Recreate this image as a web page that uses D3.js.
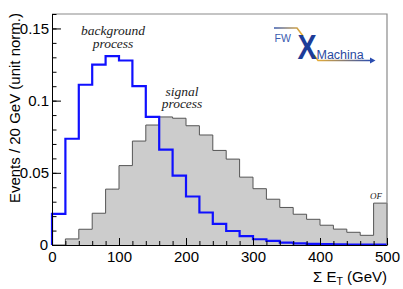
<!DOCTYPE html>
<html>
<head>
<meta charset="utf-8">
<script src="https://cdn.jsdelivr.net/npm/d3@7"></script>
<style>
  body { margin: 0; background: #fff; }
  svg text { font-family: "Liberation Sans", Arial, sans-serif; }
</style>
</head>
<body>
<svg id="Viz" width="403" height="289"></svg>
<script>
// bin lower edges (GeV), last bin is the overflow bin
var binStart = [0, 20, 40, 60, 80, 100, 120, 140, 160, 180, 200, 220, 240,
                260, 280, 300, 320, 340, 360, 380, 400, 420, 440, 460, 480];
var binWidth = 20;

var background = [0.0215, 0.0736, 0.111, 0.125, 0.1308, 0.1278, 0.110, 0.0887,
                  0.066, 0.048, 0.0336, 0.0225, 0.0146, 0.0097, 0.0062, 0.0040,
                  0.0028, 0.0016, 0.0011, 0.0008, 0.0006, 0.0004, 0.0003, 0.0002, 0.0002];

var signal = [0, 0.0042, 0.0109, 0.022, 0.0387, 0.055, 0.072, 0.0831, 0.0887,
              0.0878, 0.0826, 0.0762, 0.0655, 0.0595, 0.047, 0.039, 0.0317,
              0.026, 0.0213, 0.0178, 0.0137, 0.011, 0.0088, 0.0067, 0.029];

var yTicks = [0, 0.05, 0.1, 0.15];
var yMinor = [0, 0.01, 0.02, 0.03, 0.04, 0.05, 0.06, 0.07, 0.08, 0.09, 0.1,
              0.11, 0.12, 0.13, 0.14, 0.15, 0.16];
var xTicks = [0, 100, 200, 300, 400, 500];
var xMinor = [0, 20, 40, 60, 80, 100, 120, 140, 160, 180, 200, 220, 240, 260,
              280, 300, 320, 340, 360, 380, 400, 420, 440, 460, 480, 500];

var svg = d3.select("#Viz");
var padL = 52, padR = 387, padT = 14, padB = 245;

var x = d3.scaleLinear().domain([0, 500]).range([padL, padR]);
var y = d3.scaleLinear().domain([0, 0.16]).range([padB, padT]);

function steps(vals) {
  var pts = [[0, 0]];
  vals.forEach(function(v, i) { pts.push([binStart[i], v]); });
  pts.push([binStart[vals.length - 1] + binWidth, vals[vals.length - 1]]);
  pts.push([binStart[vals.length - 1] + binWidth, 0]);
  return pts;
}

var area = d3.area()
  .x(function(d) { return x(d[0]); })
  .y0(y(0))
  .y1(function(d) { return y(d[1]); })
  .curve(d3.curveStepAfter);

var line = d3.line()
  .x(function(d) { return x(d[0]); })
  .y(function(d) { return y(d[1]); })
  .curve(d3.curveStepAfter);

// signal (grey filled)
svg.append("path")
  .attr("d", area(steps(signal)))
  .attr("fill", "#cccccc");
svg.append("path")
  .attr("d", line(steps(signal)))
  .attr("fill", "none")
  .attr("stroke", "#555")
  .attr("stroke-width", 1);

// background (blue line)
svg.append("path")
  .attr("d", line(steps(background)))
  .attr("fill", "none")
  .attr("stroke", "#1010ff")
  .attr("stroke-width", 2.2);

// frame
svg.append("path")
  .attr("d", "M" + padL + "," + padT + "H" + padR + "V" + padB)
  .attr("fill", "none")
  .attr("stroke", "#8a8a8a")
  .attr("stroke-width", 1.2);

// y axis
var yAxis = svg.append("g")
  .attr("transform", "translate(" + padL + ",0)")
  .call(d3.axisLeft(y).tickValues(yTicks).tickSizeInner(-9).tickSizeOuter(0).tickPadding(3)
    .tickFormat(function(d) { return d === 0 ? "0" : String(+d.toFixed(2)); }));
svg.append("g")
  .attr("transform", "translate(" + padL + ",0)")
  .call(d3.axisLeft(y).tickValues(yMinor).tickSizeInner(-4.5).tickSizeOuter(0).tickFormat(""))
  .select(".domain").remove();
yAxis.selectAll("text").style("font-size", "15px").attr("fill", "#000");
yAxis.selectAll("text").filter(function(d) { return d === 0; })
  .attr("x", -4).attr("y", 0);

// x axis
var xAxis = svg.append("g")
  .attr("transform", "translate(0," + padB + ")")
  .call(d3.axisBottom(x).tickValues(xTicks).tickSizeInner(-7).tickSizeOuter(0).tickPadding(6)
    .tickFormat(d3.format("d")));
svg.append("g")
  .attr("transform", "translate(0," + padB + ")")
  .call(d3.axisBottom(x).tickValues(xMinor).tickSizeInner(-4).tickSizeOuter(0).tickFormat(""))
  .select(".domain").remove();
xAxis.selectAll("text").style("font-size", "15px").attr("fill", "#000");

svg.selectAll(".domain").attr("stroke", "#000");

// axis titles
svg.append("text")
  .attr("transform", "translate(20,13) rotate(-90)")
  .attr("text-anchor", "end")
  .style("font-size", "15px")
  .text("Events / 20 GeV (unit norm.)");

var xt = svg.append("text")
  .attr("x", padR)
  .attr("y", 282)
  .attr("text-anchor", "end")
  .style("font-size", "15px");
xt.append("tspan").text("\u03A3 E");
xt.append("tspan").attr("dy", 3).style("font-size", "10.5px").text("T");
xt.append("tspan").attr("dy", -3).text(" (GeV)");

// annotations
var serif = "'Liberation Serif', 'Times New Roman', serif";
function note(txt, cx, by, size) {
  svg.append("text")
    .attr("x", cx).attr("y", by)
    .attr("text-anchor", "middle")
    .style("font-family", serif)
    .style("font-style", "italic")
    .style("font-size", size + "px")
    .attr("fill", "#222")
    .text(txt);
}
note("background", 113, 34.5, 13.5);
note("process", 113, 47.5, 13.5);
note("signal", 182, 95.5, 13.5);
note("process", 182, 108, 13.5);
note("OF", 376, 199, 9);

// logo
var defs = svg.append("defs");
var g1 = defs.append("linearGradient").attr("id", "gTop");
g1.append("stop").attr("offset", "0%").attr("stop-color", "#3a5cb0");
g1.append("stop").attr("offset", "100%").attr("stop-color", "#f2b22e");
var g2 = defs.append("linearGradient").attr("id", "gBot");
g2.append("stop").attr("offset", "0%").attr("stop-color", "#f2b22e");
g2.append("stop").attr("offset", "100%").attr("stop-color", "#2a4db0");

var logo = svg.append("g");
logo.append("path")
  .attr("d", "M274,28H297L303,36")
  .attr("fill", "none").attr("stroke", "url(#gTop)").attr("stroke-width", 1.6);
logo.append("path")
  .attr("d", "M314,55L318,60.5H371")
  .attr("fill", "none").attr("stroke", "url(#gBot)").attr("stroke-width", 1.6);
logo.append("path")
  .attr("d", "M370,57.5L375.5,60.5L370,63.5Z")
  .attr("fill", "#2a4db0");
logo.append("text")
  .attr("x", 274.5).attr("y", 42)
  .style("font-size", "10.5px").attr("fill", "#3a5cb0")
  .text("FW");
logo.append("text")
  .attr("transform", "translate(297.5,58.7) scale(0.82,1)")
  .style("font-size", "35px").style("font-weight", "bold").attr("fill", "#1d3c98")
  .text("X");
logo.append("text")
  .attr("x", 316.5).attr("y", 58.7)
  .style("font-size", "12.5px").attr("fill", "#2a4aa0")
  .text("Machina");
</script>
</body>
</html>
